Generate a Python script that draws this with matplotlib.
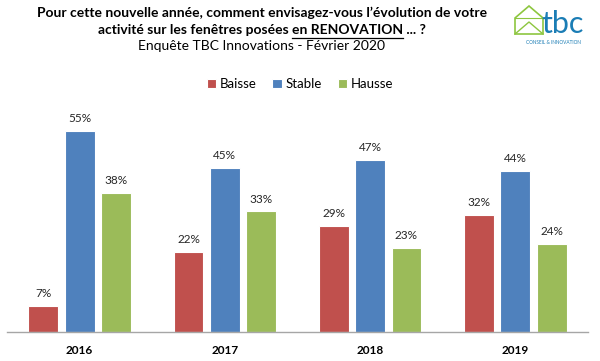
import matplotlib.pyplot as plt
from matplotlib.patches import Polygon
import numpy as np

years = ['2016', '2017', '2018', '2019']
series = ['Baisse', 'Stable', 'Hausse']
baisse = [7, 22, 29, 32]
stable = [55, 45, 47, 44]
hausse = [38, 33, 23, 24]
colors = ['#C0504D', '#4F81BD', '#9BBB59']

plt.rcParams['font.family'] = ['Lato', 'DejaVu Sans']

fig = plt.figure(figsize=(6, 3.61), dpi=100)
ax = fig.add_axes([7 / 600, 29 / 361, 581 / 600, 0.607])

x = np.arange(len(years))
offsets = [-0.25, 0, 0.25]
for vals, name, col, off in zip([baisse, stable, hausse], series, colors, offsets):
    bars = ax.bar(x + off, vals, width=0.205, color=col, edgecolor='white',
                  linewidth=0.8, label=name)
    for b, v in zip(bars, vals):
        ax.annotate(f'{v}%', (b.get_x() + b.get_width() / 2, v),
                    xytext=(0, 5), textcoords='offset points',
                    ha='center', va='bottom', fontsize=8.5, color='#262626',
                    annotation_clip=False)

ax.set_xlim(-0.5, 3.5)
ax.set_ylim(0, 60)
ax.set_yticks([])
ax.set_xticks(x)
ax.set_xticklabels(years, fontweight='bold', fontsize=8.5)
ax.tick_params(axis='x', length=0, pad=9)
for s in ['top', 'right', 'left']:
    ax.spines[s].set_visible(False)
ax.spines['bottom'].set_color('#A6A6A6')
ax.spines['bottom'].set_linewidth(1)

fig.legend(loc='center', bbox_to_anchor=(0.5, 1 - 84 / 361), ncol=3,
           frameon=False, fontsize=9.5, handlelength=0.7, handleheight=0.7,
           handletextpad=0.3, columnspacing=1.2)

# titre
cx = 262 / 600
fs = 10
fig.text(cx, 1 - 13 / 361, "Pour cette nouvelle année, comment envisagez-vous l\u2019évolution de votre",
         ha='center', va='center', fontsize=fs, fontweight='bold')
part1 = "activité sur les fenêtres posées "
part2 = "en RENOVATION"
part3 = " ... ?"
y2 = 1 - 30 / 361
renderer = fig.canvas.get_renderer()
tmp = [fig.text(0, 0, p, fontsize=fs, fontweight='bold') for p in (part1, part2, part3)]
widths = [t.get_window_extent(renderer).width / 600 for t in tmp]
for t in tmp:
    t.remove()
x0 = cx - sum(widths) / 2
fig.text(x0, y2, part1, ha='left', va='center', fontsize=fs, fontweight='bold')
fig.text(x0 + widths[0], y2, part2, ha='left', va='center', fontsize=fs, fontweight='bold')
fig.text(x0 + widths[0] + widths[1], y2, part3, ha='left', va='center', fontsize=fs, fontweight='bold')
uy = y2 - 7.5 / 361
fig.add_artist(plt.Line2D([x0 + widths[0], x0 + widths[0] + widths[1]], [uy, uy],
                          color='black', linewidth=0.9, transform=fig.transFigure))
fig.text(cx, 1 - 46 / 361, "Enquête TBC Innovations - Février 2020",
         ha='center', va='center', fontsize=fs)

# logo
lx = lambda px: px / 600
ly = lambda py: 1 - py / 361
house = Polygon([(lx(515), ly(34)), (lx(515), ly(18)), (lx(529), ly(6)),
                 (lx(543), ly(18)), (lx(543), ly(34))], closed=True,
                fill=False, edgecolor='#8DC63F', linewidth=1.2, transform=fig.transFigure)
fig.add_artist(house)
fig.add_artist(plt.Line2D([lx(515), lx(529), lx(543)], [ly(34), ly(22), ly(34)],
                          color='#8DC63F', linewidth=1, transform=fig.transFigure))
fig.add_artist(plt.Line2D([lx(515), lx(543)], [ly(18), ly(18)],
                          color='#8DC63F', linewidth=0.8, transform=fig.transFigure))
fig.text(lx(541), ly(24), 'tbc', ha='left', va='center', fontsize=22,
         color='#1B7DB5', family='Lato')
fig.text(lx(553), ly(42), 'CONSEIL & INNOVATION', ha='center', va='center',
         fontsize=3.4, color='#1B7DB5')

fig.savefig('out.png', dpi=100)
